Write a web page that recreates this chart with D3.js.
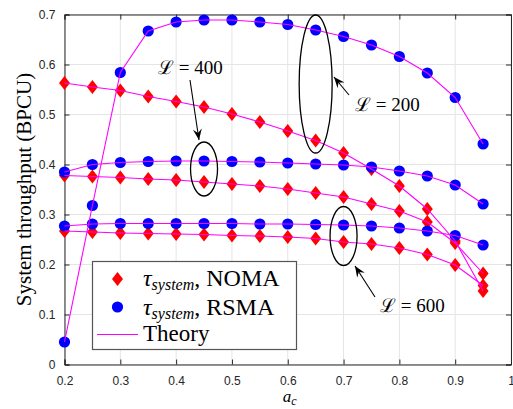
<!DOCTYPE html>
<html>
<head>
<meta charset="UTF-8">
<script src="https://cdn.jsdelivr.net/npm/d3@7/dist/d3.min.js"></script>
<style>
body{
    margin:0;
    background-color:#fff;
}
.tick text{
    font-family:"Liberation Sans", Arial, sans-serif;
    font-size:12px;
    fill:#262626;
}
.axis path, .axis line{
    stroke:#262626;
}
.serif{
    font-family:"Liberation Serif", "DejaVu Serif", serif;
    fill:#000;
}
</style>
</head>
<body>
<script>

// a_c values on the x axis
var ac = [0.2,0.25,0.3,0.35,0.4,0.45,0.5,0.55,0.6,0.65,0.7,0.75,0.8,0.85,0.9,0.95];

// simulated throughput
var rsma200 = [0.045,0.318,0.584,0.667,0.685,0.689,0.689,0.685,0.680,0.669,0.656,0.639,0.616,0.583,0.534,0.441];
var noma200 = [0.563,0.555,0.548,0.536,0.526,0.515,0.501,0.485,0.467,0.448,0.423,0.391,0.357,0.311,0.247,0.147];
var rsma400 = [0.385,0.400,0.404,0.406,0.407,0.407,0.406,0.405,0.403,0.401,0.399,0.395,0.387,0.377,0.359,0.321];
var noma400 = [0.378,0.376,0.374,0.371,0.369,0.365,0.361,0.357,0.351,0.343,0.335,0.321,0.307,0.285,0.243,0.182];
var rsma600 = [0.277,0.281,0.282,0.282,0.282,0.282,0.282,0.281,0.281,0.280,0.279,0.277,0.273,0.267,0.258,0.239];
var noma600 = [0.267,0.265,0.263,0.262,0.261,0.260,0.258,0.257,0.255,0.252,0.245,0.241,0.233,0.220,0.199,0.158];

var xTicks = [0.2,0.3,0.4,0.5,0.6,0.7,0.8,0.9,1];
var yTicks = [0,0.1,0.2,0.3,0.4,0.5,0.6,0.7];

var nomaSeries = [noma200, noma400, noma600];
var rsmaSeries = [rsma200, rsma400, rsma600];

var width = 513, height = 409;
var margin = {top: 14.5, right: 2, bottom: 44.5, left: 64.5};

var x = d3.scaleLinear().domain([0.2,1]).range([margin.left, width-margin.right]);
var y = d3.scaleLinear().domain([0,0.7]).range([height-margin.bottom, margin.top]);

var svg = d3.select("body").append("svg")
    .attr("width",width)
    .attr("height",height);

var defs = svg.append("defs");
defs.append("marker")
    .attr("id","arr")
    .attr("viewBox","-12 -6 14 12")
    .attr("markerWidth",14)
    .attr("markerHeight",12)
    .attr("markerUnits","userSpaceOnUse")
    .attr("refX",0)
    .attr("refY",0)
    .attr("orient","auto")
    .append("path")
    .attr("d","M0,0 L-11,-4.5 L-7,0 L-11,4.5 Z")
    .attr("fill","#000");

// grid
svg.append("g").selectAll("line.gx")
    .data(xTicks).enter().append("line")
    .attr("x1",function(d){ return x(d); })
    .attr("x2",function(d){ return x(d); })
    .attr("y1",y(0)).attr("y2",y(0.7))
    .attr("stroke","#e5e5e5");
svg.append("g").selectAll("line.gy")
    .data(yTicks).enter().append("line")
    .attr("x1",x(0.2)).attr("x2",x(1))
    .attr("y1",function(d){ return y(d); })
    .attr("y2",function(d){ return y(d); })
    .attr("stroke","#e5e5e5");

var fmt = function(d){ return String(+d.toFixed(1)); };

// axes, ticks pointing inward like matlab
svg.append("g").attr("class","axis")
    .attr("transform","translate(0,"+y(0)+")")
    .call(d3.axisBottom(x).tickValues(xTicks).tickSize(-5).tickPadding(12).tickFormat(fmt));
svg.append("g").attr("class","axis")
    .attr("transform","translate("+x(0.2)+",0)")
    .call(d3.axisLeft(y).tickValues(yTicks).tickSize(-5).tickPadding(9).tickFormat(fmt));
svg.append("g").attr("class","axis")
    .attr("transform","translate(0,"+y(0.7)+")")
    .call(d3.axisTop(x).tickValues(xTicks).tickSize(-5).tickFormat(""));
svg.append("g").attr("class","axis")
    .attr("transform","translate("+x(1)+",0)")
    .call(d3.axisRight(y).tickValues(yTicks).tickSize(-5).tickFormat(""));

var diamond = "M0,-7 L5.5,0 L0,7 L-5.5,0 Z";

// red diamonds (NOMA)
nomaSeries.forEach(function(s){
    svg.append("g").selectAll("path")
        .data(s).enter().append("path")
        .attr("d",diamond)
        .attr("transform",function(d,i){ return "translate("+x(ac[i])+","+y(d)+")"; })
        .attr("fill","#ff0000");
});

// blue circles (RSMA)
rsmaSeries.forEach(function(s){
    svg.append("g").selectAll("circle")
        .data(s).enter().append("circle")
        .attr("cx",function(d,i){ return x(ac[i]); })
        .attr("cy",function(d){ return y(d); })
        .attr("r",5.6)
        .attr("fill","#0000ff");
});

// theory curves
var line = d3.line()
    .x(function(d,i){ return x(ac[i]); })
    .y(function(d){ return y(d); });

nomaSeries.concat(rsmaSeries).forEach(function(s){
    svg.append("path")
        .datum(s)
        .attr("d",line)
        .attr("fill","none")
        .attr("stroke","#ff00ff")
        .attr("stroke-width",1.1);
});

// labels
svg.append("text")
    .attr("class","serif")
    .attr("transform","translate(31,"+((y(0)+y(0.7))/2)+") rotate(-90)")
    .attr("text-anchor","middle")
    .attr("font-size",21)
    .text("System throughput (BPCU)");

var xl = svg.append("text")
    .attr("class","serif")
    .attr("x",x(0.6)-5)
    .attr("y",402)
    .attr("font-size",17)
    .attr("font-style","italic");
xl.append("tspan").text("a");
xl.append("tspan").attr("font-size",12).attr("dy",3).text("c");

// annotations
function note(txt, tx, ty, ax1, ay1, ax2, ay2, ex, ey, rx, ry){
    svg.append("ellipse")
        .attr("cx",ex).attr("cy",ey).attr("rx",rx).attr("ry",ry)
        .attr("fill","none").attr("stroke","#000").attr("stroke-width",1.3);
    svg.append("line")
        .attr("x1",ax1).attr("y1",ay1).attr("x2",ax2).attr("y2",ay2)
        .attr("stroke","#000").attr("stroke-width",1.1)
        .attr("marker-end","url(#arr)");
    svg.append("text")
        .attr("class","serif")
        .attr("x",tx).attr("y",ty)
        .attr("font-size",19)
        .text(txt);
}
note("\u2112 = 400", 158, 74, 190, 80, 199, 140, x(0.45), 169, 13.5, 27);
note("\u2112 = 200", 355, 111, 349, 95, 334, 77, x(0.65), 84, 16.5, 69);
note("\u2112 = 600", 380, 312, 375, 297, 355, 266, x(0.7), 236, 13.5, 29.5);

// legend
var lg = svg.append("g");
lg.append("rect")
    .attr("x",92.5).attr("y",261.5).attr("width",204).attr("height",88)
    .attr("fill","#fff").attr("stroke","#555").attr("stroke-width",1.2);
lg.append("path").attr("d",diamond).attr("transform","translate(117.5,279)").attr("fill","#ff0000");
lg.append("circle").attr("cx",117.5).attr("cy",307).attr("r",5.6).attr("fill","#0000ff");
lg.append("line").attr("x1",97).attr("x2",138).attr("y1",334.5).attr("y2",334.5)
    .attr("stroke","#ff00ff").attr("stroke-width",1.1);

var names = ["NOMA","RSMA"];
names.forEach(function(n,i){
    var t = lg.append("text").attr("class","serif")
        .attr("x",143).attr("y",286 + i*28.5).attr("font-size",24);
    t.append("tspan").attr("font-style","italic").text("\u03c4");
    t.append("tspan").attr("font-style","italic").attr("font-size",16).attr("dy",4).text("system");
    t.append("tspan").attr("dy",-4).text(", " + n);
});
lg.append("text").attr("class","serif")
    .attr("x",143).attr("y",341).attr("font-size",23)
    .text("Theory");

</script>
</body>
</html>
